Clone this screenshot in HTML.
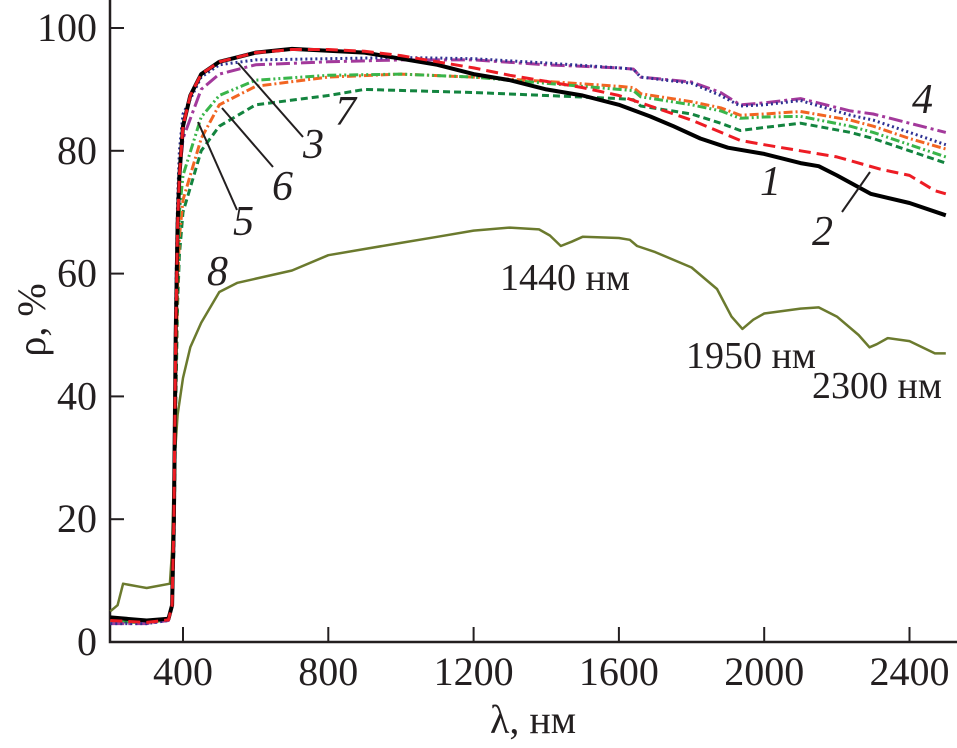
<!DOCTYPE html>
<html><head><meta charset="utf-8">
<style>
html,body{margin:0;padding:0;background:#fff;}
svg{display:block;}
svg text{font-family:"Liberation Serif","Times New Roman",serif;}
</style></head>
<body>
<svg id="chart" width="957" height="748" viewBox="0 0 957 748" xmlns="http://www.w3.org/2000/svg">
<g id="plot"></g>
</svg>
<script>
const xTicks=[400,800,1200,1600,2000,2400];
const yTicks=[0,20,40,60,80,100];
const s1x=[200,300,360,370,375,380,385,390,400,420,450,500,600,700,800,900,1000,1100,1200,1300,1400,1500,1600,1686,1750,1824,1900,2000,2100,2150,2200,2293,2400,2500];
const s1y=[4,3.5,3.8,6,20,50,68,76,84,89,92.5,94.5,96,96.6,96.3,96,95,94,92.5,91.5,90,89,87.5,85.6,84,82,80.5,79.5,78,77.5,76,73,71.5,69.5];
const s2x=[200,300,360,370,375,380,385,390,400,420,450,500,600,700,800,900,1000,1100,1200,1300,1400,1500,1600,1686,1800,1934,2000,2100,2200,2320,2400,2470,2500];
const s2y=[3.5,3.2,3.6,6,20,50,68,76,84,89,92.5,94.5,96,96.5,96.5,96.2,95.5,94.5,93.5,92.3,91.3,90.3,89,87.3,85,81.7,81,80,79,77,76,73.5,73];
const s3x=[200,300,360,370,375,380,385,390,400,450,500,600,800,1000,1200,1400,1600,1640,1660,1800,1880,1934,2000,2100,2237,2300,2400,2500];
const s3y=[3,3,3.5,6,22,55,72,80,86,92,94,94.8,95,95.2,95,94.3,93.5,93.3,92,91,89,87.3,87.5,88.2,85.8,85,83,81];
const s4x=[200,300,360,370,375,380,385,390,400,450,500,600,800,1000,1200,1400,1600,1640,1660,1800,1880,1934,2000,2100,2237,2300,2400,2500];
const s4y=[3,3,3.5,6,20,50,68,76,82,90,92.5,94,94.5,94.8,94.8,94,93.5,93.3,92,91.2,89.5,87.5,87.8,88.5,86.5,86,84.5,83];
const s5x=[200,300,360,370,375,380,385,390,400,450,500,600,800,1000,1200,1400,1600,1640,1660,1800,1880,1934,2000,2100,2237,2300,2400,2500];
const s5y=[3.3,3.2,3.6,6,18,45,62,70,76,85.5,89,91.5,92.3,92.5,92,91,90,89.8,88.8,87.5,86.5,85.3,85.5,85.6,84,83,81,79];
const s6x=[200,300,360,370,375,380,385,390,400,450,500,600,800,1000,1200,1400,1600,1640,1660,1800,1880,1934,2000,2100,2237,2300,2400,2500];
const s6y=[3.3,3.2,3.6,6,17,42,58,66,72,82,87.5,90.5,92,92.5,92,91.3,90.5,90.3,89.3,88,87,85.8,86,86.4,85,84,82,80.3];
const s7x=[200,300,360,370,375,380,385,390,400,450,500,600,800,900,1200,1400,1600,1640,1660,1800,1880,1934,2000,2100,2237,2300,2400,2500];
const s7y=[3.3,3.2,3.6,6,15,38,55,63,70,80,84,87.5,89,90,89.5,89,88.5,88.3,87.3,86,84.5,83.3,83.8,84.5,83,82,80,78];
const s8x=[200,220,235,280,300,364,370,375,385,400,420,450,500,550,700,800,900,1000,1100,1200,1300,1380,1410,1440,1470,1500,1600,1630,1650,1700,1800,1870,1910,1940,1970,2000,2100,2150,2200,2260,2290,2310,2340,2400,2470,2500];
const s8y=[5,6,9.5,9,8.8,9.5,15,28,37,43,48,52,57,58.5,60.5,63,64,65,66,67,67.5,67.2,66.2,64.5,65.2,66,65.8,65.5,64.5,63.5,61,57.5,53,51,52.5,53.5,54.3,54.5,53,50,48,48.5,49.5,49,47,47];

const X=v=>183+(v-400)*145.3/400;
const Y=v=>642-v*6.14;
const NS='http://www.w3.org/2000/svg';
const plot=document.getElementById('plot');
function mk(tag,attrs){const e=document.createElementNS(NS,tag);for(const k in attrs)e.setAttribute(k,attrs[k]);plot.appendChild(e);return e;}

let ax=mk('path',{d:'M110,0 V642 H957',fill:'none',stroke:'#231f20','stroke-width':2.5});


xTicks.forEach(t=>{
  let l=mk('line',{x1:X(t),x2:X(t),y1:642,y2:627,stroke:'#231f20','stroke-width':2});
  
  
  let tx=mk('text',{x:X(t),y:685,'font-size':40,'text-anchor':'middle',fill:'#231f20'});
  tx.textContent=t;
  
  
});
yTicks.forEach(t=>{
  let l=mk('line',{x1:110,x2:124,y1:Y(t),y2:Y(t),stroke:'#231f20','stroke-width':2});
  
  
  let tx=mk('text',{x:97,y:Y(t)+13,'font-size':40,'text-anchor':'end',fill:'#231f20'});
  tx.textContent=t;
  
  
});
let xt=mk('text',{x:533,y:733,'font-size':40,'text-anchor':'middle',fill:'#231f20'});
xt.textContent='λ, нм';


let yt=mk('text',{x:0,y:0,'font-size':40,'text-anchor':'middle',fill:'#231f20',transform:'translate(45,320) rotate(-90)'});
yt.textContent='ρ, %';



const series=[
 [s8x,s8y,'#6b7a2e',2.5,'','series-8'],
 [s7x,s7y,'#13843f',3,'7 4','series-7'],
 [s6x,s6y,'#f26522',3,'9 3 2 3','series-6'],
 [s5x,s5y,'#39b54a',3,'9 3 2 3 2 3','series-5'],
 [s4x,s4y,'#a3399b',3,'14 4 3 4','series-4'],
 [s3x,s3y,'#2e3192',3,'2 3','series-3'],
 [s1x,s1y,'#000',4,'','series-1'],
 [s2x,s2y,'#ed1c24',3,'12 6','series-2']
];
series.forEach(s=>{
  const d=s[0].map((x,i)=>(i?'L':'M')+X(x).toFixed(1)+','+Y(s[1][i]).toFixed(1)).join(' ');
  const p=mk('path',{d:d,fill:'none',stroke:s[2],'stroke-width':s[3],'stroke-dasharray':s[4],'stroke-linejoin':'round'});
  
  
});

[[238,63,303,137],[222,108,273,167],[198,122,237,210],[870,172,842,212]].forEach(a=>{
  let l=mk('line',{x1:a[0],y1:a[1],x2:a[2],y2:a[3],stroke:'#231f20','stroke-width':2});
  
  
});
[['1',760,195],['2',812,245],['3',303,158],['4',912,113],['5',233,235],['6',272,200],['7',335,125],['8',207,285]].forEach(a=>{
  let t=mk('text',{x:a[1],y:a[2],'font-size':42,'font-style':'italic',fill:'#231f20'});
  t.textContent=a[0];
  
  
});
[['1440 нм',500,290],['1950 нм',686,368],['2300 нм',812,398]].forEach(a=>{
  let t=mk('text',{x:a[1],y:a[2],'font-size':38,fill:'#231f20'});
  t.textContent=a[0];
  
  
});
</script>
</body></html>
